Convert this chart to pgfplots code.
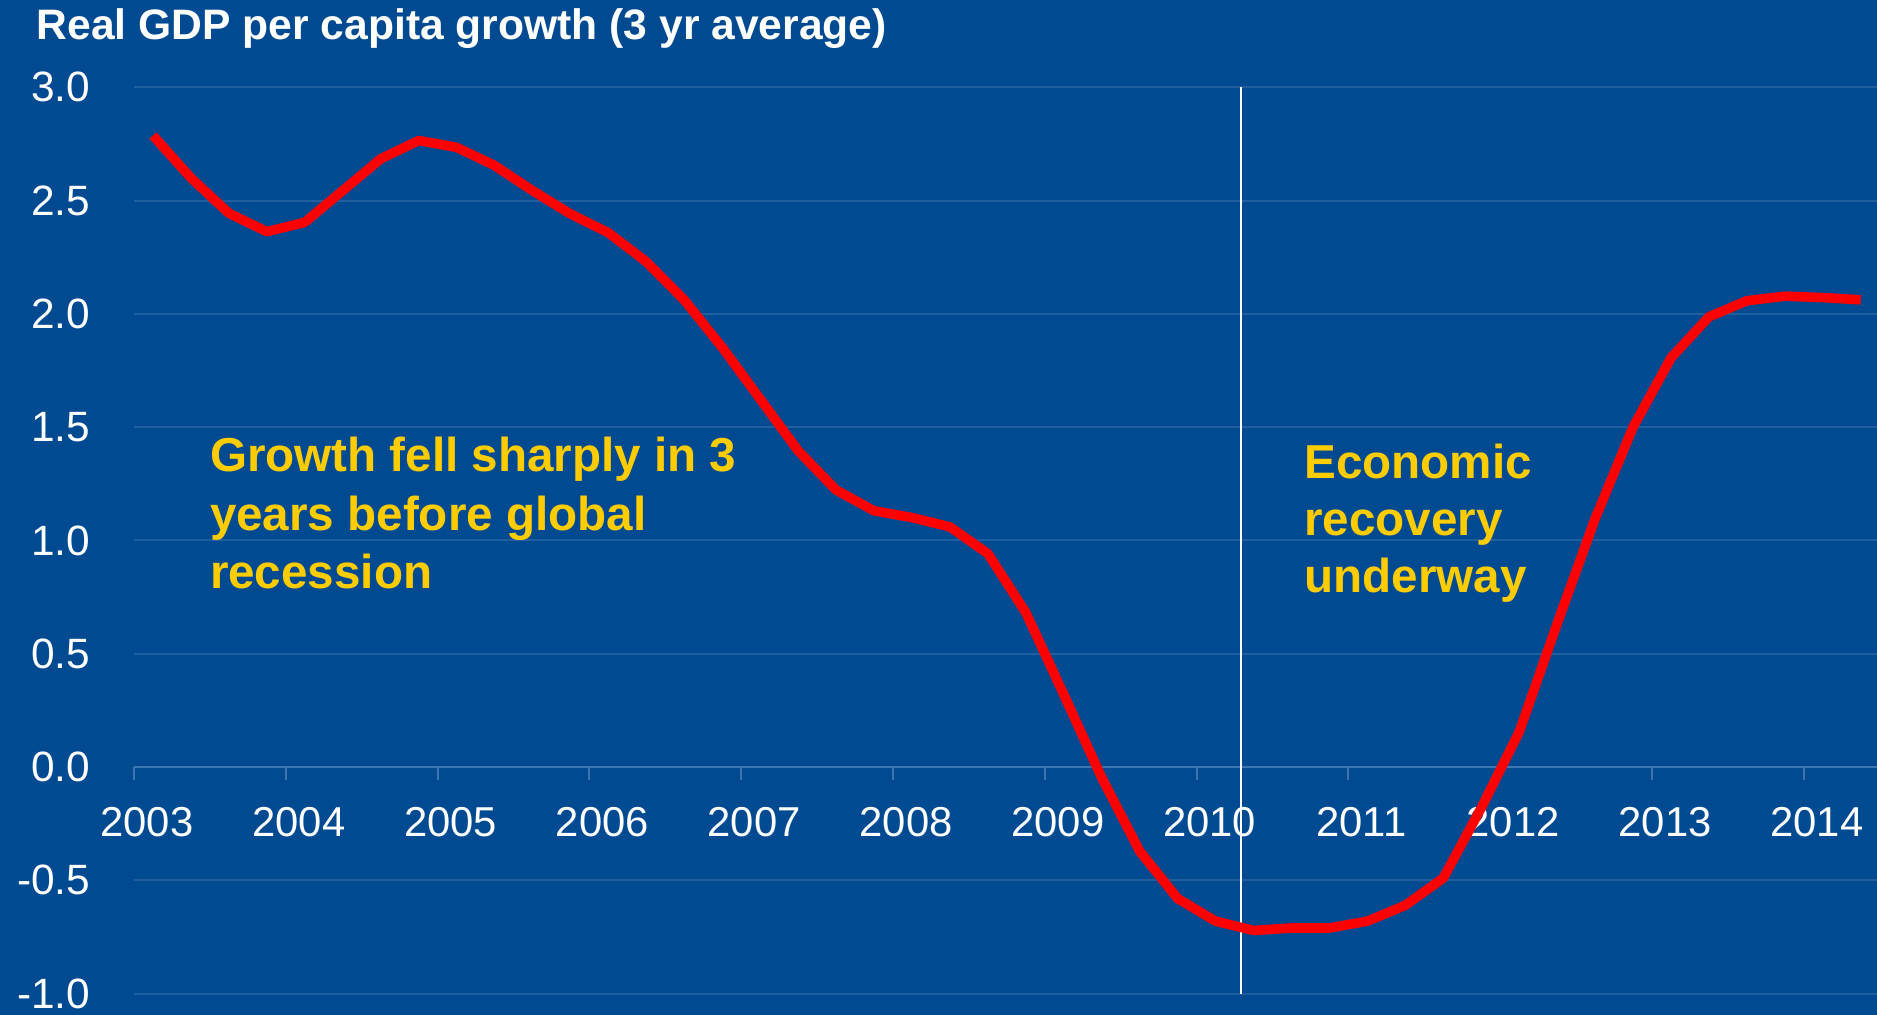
\documentclass[border=0pt]{standalone}
\usepackage{pgfplots}
\pgfplotsset{compat=1.18}
\usepackage{fontspec}
\setmainfont{Liberation Sans}
\definecolor{bg}{RGB}{0,74,146}
\definecolor{gridc}{RGB}{32,94,160}
\definecolor{axc}{RGB}{62,117,178}
\definecolor{ann}{RGB}{255,204,0}
\begin{document}
\begin{tikzpicture}
\useasboundingbox (0,0) rectangle (469.25pt,253.75pt);
\clip (0,0) rectangle (469.25pt,253.75pt);
\fill[bg] (0,0) rectangle (469.25pt,253.75pt);
\begin{axis}[
  at={(33.5pt,5.325pt)}, anchor=south west,
  scale only axis, width=435.75pt, height=226.6pt,
  xmin=2003, xmax=2014.482, ymin=-1, ymax=3,
  axis x line=middle, axis y line=left,
  x axis line style={draw=axc, line width=0.5pt, -},
  y axis line style={draw=none, -},
  hide obscured x ticks=false, hide obscured y ticks=false,
  xtick={2003,2004,2005,2006,2007,2008,2009,2010,2011,2012,2013,2014},
  ytick={-1,-0.5,0,0.5,1,1.5,2,2.5,3},
  minor tick num=0,
  xtick align=outside,
  major tick length=3.25pt,
  xtick style={draw=axc, line width=0.5pt},
  ytick style={draw=none},
  ymajorgrids, grid style={draw=gridc, line width=0.5pt},
  /pgf/number format/assume math mode=true,
  xticklabel style={/pgf/number format/1000 sep={}, anchor=base, yshift=-14pt, xshift=3.25pt, text=white, font=\fontsize{10.45pt}{12pt}\selectfont},
  yticklabel style={/pgf/number format/.cd, fixed, fixed zerofill, precision=1, /tikz/.cd, anchor=east, xshift=-5.8pt, text=white, font=\fontsize{10.6pt}{12pt}\selectfont},
]
\addplot[white, line width=0.55pt] coordinates {(2010.29,-1) (2010.29,3)};
\addplot[red, line width=2.4pt, line join=round] coordinates {
(2003.125,2.787) (2003.375,2.600) (2003.625,2.444) (2003.875,2.363)
(2004.125,2.404) (2004.375,2.544) (2004.625,2.684) (2004.875,2.765)
(2005.125,2.735) (2005.375,2.655) (2005.625,2.544) (2005.875,2.441)
(2006.125,2.358) (2006.375,2.230) (2006.625,2.061) (2006.875,1.852)
(2007.125,1.624) (2007.375,1.396) (2007.625,1.223) (2007.875,1.131)
(2008.125,1.101) (2008.375,1.060) (2008.625,0.942) (2008.875,0.682)
(2009.125,0.320) (2009.375,-0.047) (2009.625,-0.371) (2009.875,-0.580)
(2010.125,-0.680) (2010.375,-0.721) (2010.625,-0.710) (2010.875,-0.710)
(2011.125,-0.680) (2011.375,-0.610) (2011.625,-0.490) (2011.875,-0.180)
(2012.125,0.155) (2012.375,0.633) (2012.625,1.096) (2012.875,1.500)
(2013.125,1.806) (2013.375,1.987) (2013.625,2.058) (2013.875,2.078)
(2014.125,2.072) (2014.375,2.062)
};
\end{axis}
\node[anchor=base west, inner sep=0pt, text=white, font=\bfseries\fontsize{10.65pt}{12pt}\selectfont] at (9pt,243.75pt) {Real GDP per capita growth (3 yr average)};
\begin{scope}[every node/.style={anchor=base west, inner sep=0pt, text=ann, font=\bfseries\fontsize{11.9pt}{14pt}\selectfont}]
\node at (52.3pt,135.8pt) {Growth fell sharply in 3};
\node at (52.3pt,121.2pt) {years before global};
\node at (52.3pt,106.6pt) {recession};
\node at (325.9pt,134.1pt) {Economic};
\node at (325.9pt,119.9pt) {recovery};
\node at (325.9pt,105.6pt) {underway};
\end{scope}
\end{tikzpicture}
\end{document}
